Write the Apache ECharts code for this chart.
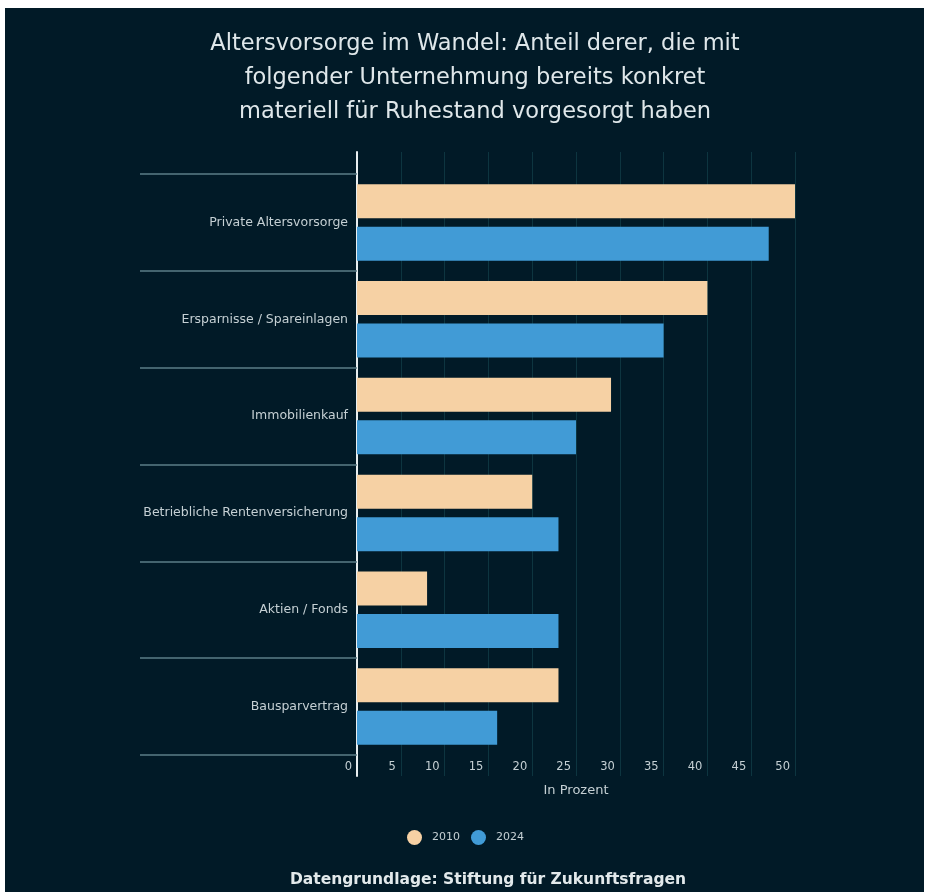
<!DOCTYPE html>
<html>
<head>
<meta charset="utf-8">
<title>Altersvorsorge im Wandel</title>
<script src="https://cdn.jsdelivr.net/npm/echarts@6/dist/echarts.min.js"></script>
<style>
  html, body { margin: 0; padding: 0; background: #fff; }
  #chart { position: absolute; left: 5px; top: 8px; width: 919px; height: 884px; background: #011a27; }
</style>
</head>
<body>
<div id="chart"></div>
<script>
const categories = ['Private Altersvorsorge', 'Ersparnisse / Spareinlagen', 'Immobilienkauf', 'Betriebliche Rentenversicherung', 'Aktien / Fonds', 'Bausparvertrag']
const values2010 = [50, 40, 29, 20, 8, 23]
const values2024 = [47, 35, 25, 23, 23, 16]
const years = ['2010', '2024']

const font = '"DejaVu Sans", sans-serif'
const chart = echarts.init(document.getElementById('chart'))

const options = {
  backgroundColor: 'transparent',
  textStyle: { fontFamily: font },
  title: [
    {
      text: 'Altersvorsorge im Wandel: Anteil derer, die mit\nfolgender Unternehmung bereits konkret\nmateriell für Ruhestand vorgesorgt haben',
      left: 470,
      top: 19,
      padding: 0,
      textAlign: 'center',
      textStyle: { color: '#dfe7ea', fontSize: 22.5, fontWeight: 'normal', lineHeight: 34, fontFamily: font },
    },
    {
      text: 'Datengrundlage: Stiftung für Zukunftsfragen',
      left: 483,
      top: 864,
      padding: 0,
      textAlign: 'center',
      textStyle: { color: '#e2e9eb', fontSize: 15.5, fontWeight: 'bold', fontFamily: font },
    },
  ],
  legend: {
    data: years,
    left: 402,
    top: 822,
    padding: 0,
    icon: 'circle',
    itemWidth: 15,
    itemHeight: 15,
    itemGap: 11,
    textStyle: { color: '#c5d0d4', fontSize: 11, padding: [0, 0, 0, 5] },
  },
  grid: [
    // only for the vertical grid lines and the white axis line
    { left: 352, right: 129, top: 144, bottom: 116 },
    // bars
    { left: 352, right: 129, top: 166, bottom: 137 },
  ],
  xAxis: [
    {
      gridIndex: 0,
      type: 'value',
      min: 0,
      max: 50,
      interval: 5,
      axisLine: { show: false },
      axisTick: { show: false },
      axisLabel: { show: false },
      splitLine: { lineStyle: { color: '#0d3540', width: 1 } },
    },
    {
      gridIndex: 1,
      type: 'value',
      min: 0,
      max: 50,
      interval: 5,
      name: 'In Prozent',
      nameLocation: 'middle',
      nameGap: 29,
      nameTextStyle: { color: '#c5d0d4', fontSize: 13 },
      axisLine: { show: false },
      axisTick: { show: false },
      splitLine: { show: false },
      axisLabel: {
        color: '#c5d0d4',
        fontSize: 11.5,
        margin: 6,
        align: 'right',
        padding: [0, 5, 0, 0],
      },
    },
  ],
  yAxis: [
    {
      gridIndex: 0,
      type: 'value',
      axisLine: { show: true, lineStyle: { color: '#e8eef0', width: 2 } },
      axisTick: { show: false },
      axisLabel: { show: false },
      splitLine: { show: false },
    },
    {
      gridIndex: 1,
      type: 'category',
      inverse: true,
      data: categories,
      axisLine: { show: false },
      axisTick: { show: true, length: 217, lineStyle: { color: '#5b7d88', width: 1.5 } },
      axisLabel: { color: '#c5d0d4', fontSize: 12.5, margin: 9 },
    },
  ],
  series: [
    {
      name: years[0],
      type: 'bar',
      xAxisIndex: 1,
      yAxisIndex: 1,
      data: values2010,
      barWidth: 34,
      barGap: '25%',
      itemStyle: { color: '#f6d1a4' },
    },
    {
      name: years[1],
      type: 'bar',
      xAxisIndex: 1,
      yAxisIndex: 1,
      data: values2024,
      barWidth: 34,
      barGap: '25%',
      itemStyle: { color: '#419bd6' },
    },
  ],
}

chart.setOption(options, true)
</script>
</body>
</html>
